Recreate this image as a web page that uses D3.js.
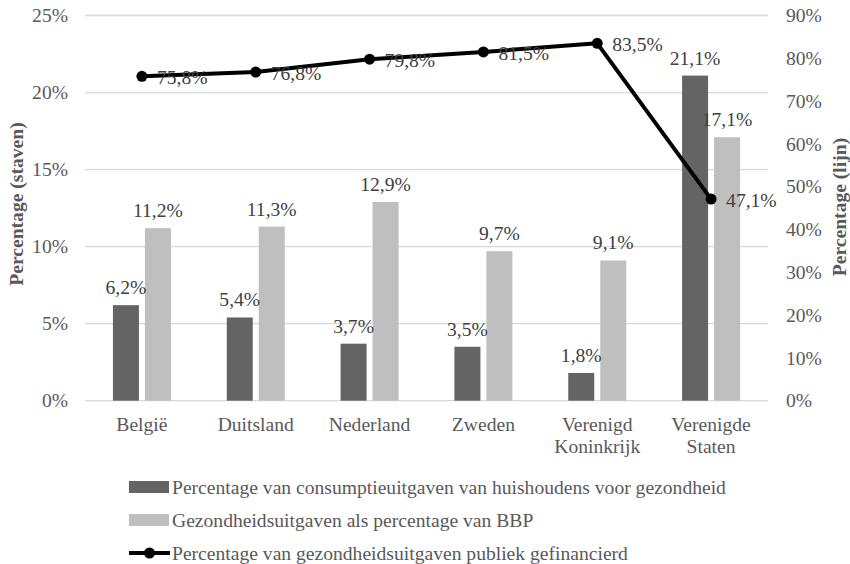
<!DOCTYPE html>
<html><head><meta charset="utf-8">
<script src="https://cdn.jsdelivr.net/npm/d3@7"></script>
<style>
html,body{margin:0;padding:0;background:#fff;}
svg text{font-family:"Liberation Serif","Times New Roman",Times,serif !important;}
</style></head>
<body><svg id="c" width="850" height="564"></svg>
<script>
const categories = ["België","Duitsland","Nederland","Zweden","Verenigd Koninkrijk","Verenigde Staten"];
const householdShare = [6.2,5.4,3.7,3.5,1.8,21.1];
const gdpShare = [11.2,11.3,12.9,9.7,9.1,17.1];
const publicShare = [75.8,76.8,79.8,81.5,83.5,47.1];
const leftTicks = [0,5,10,15,20,25];
const rightTicks = [0,10,20,30,40,50,60,70,80,90];
const seriesNames = [
  "Percentage van consumptieuitgaven van huishoudens voor gezondheid",
  "Gezondheidsuitgaven als percentage van BBP",
  "Percentage van gezondheidsuitgaven publiek gefinancierd"
];

const svg = d3.select("#c");
const plot = {l:85, r:768, t:15.5, b:400.7};
const fs = 19.6;
const axisCol = "#595959", labCol = "#404040", gridCol = "#d9d9d9";
const barCols = ["#646464","#bfbfbf"];
const fmt = v => d3.format(".1f")(v).replace(".", ",") + "%";

const x = d3.scaleBand().domain(categories).range([plot.l, plot.r]);
const xs = d3.scaleBand().domain([0,1]).range([-29,29]).paddingInner(0.1875);
const yL = d3.scaleLinear().domain([0,25]).range([plot.b, plot.t]);
const yR = d3.scaleLinear().domain([0,90]).range([plot.b, plot.t]);

svg.append("g").selectAll("line").data(leftTicks).join("line")
  .attr("x1", plot.l).attr("x2", plot.r)
  .attr("y1", d => yL(d)).attr("y2", d => yL(d))
  .attr("stroke", gridCol).attr("stroke-width", 1.3);

const gl = svg.append("g").attr("transform", `translate(${plot.l},0)`)
  .call(d3.axisLeft(yL).tickValues(leftTicks).tickSize(0).tickPadding(17).tickFormat(d => d + "%"));
gl.select(".domain").remove();
gl.selectAll("text").attr("font-size", fs).attr("fill", axisCol);

const gr = svg.append("g").attr("transform", `translate(${plot.r},0)`)
  .call(d3.axisRight(yR).tickValues(rightTicks).tickSize(0).tickPadding(18).tickFormat(d => d + "%"));
gr.select(".domain").remove();
gr.selectAll("text").attr("font-size", fs).attr("fill", axisCol);

const gx = svg.append("g");
categories.forEach(c => {
  const words = c.split(" ");
  const t = gx.append("text").attr("text-anchor", "middle")
    .attr("font-size", fs).attr("fill", axisCol)
    .attr("x", x(c) + x.bandwidth()/2).attr("y", 431);
  words.forEach((w, i) => t.append("tspan").attr("x", x(c) + x.bandwidth()/2).attr("dy", i ? 22 : 0).text(w));
});

const barData = categories.flatMap((c, i) => [
  {c, s:0, v:householdShare[i]},
  {c, s:1, v:gdpShare[i]}
]);
const bx = d => x(d.c) + x.bandwidth()/2 + xs(d.s);
svg.append("g").selectAll("rect").data(barData).join("rect")
  .attr("x", bx).attr("width", xs.bandwidth())
  .attr("y", d => yL(d.v)).attr("height", d => yL(0) - yL(d.v))
  .attr("fill", d => barCols[d.s]);
svg.append("g").selectAll("text").data(barData).join("text")
  .attr("x", d => bx(d) + xs.bandwidth()/2).attr("y", d => yL(d.v) - 11)
  .attr("text-anchor", "middle").attr("font-size", fs).attr("fill", labCol)
  .text(d => fmt(d.v));

const lineData = categories.map((c, i) => ({c, v: publicShare[i]}));
const cx = d => x(d.c) + x.bandwidth()/2;
svg.append("path").datum(lineData)
  .attr("d", d3.line().x(cx).y(d => yR(d.v)))
  .attr("fill", "none").attr("stroke", "#000").attr("stroke-width", 4).attr("stroke-linejoin", "round");
svg.append("g").selectAll("circle").data(lineData).join("circle")
  .attr("cx", cx).attr("cy", d => yR(d.v)).attr("r", 5.5).attr("fill", "#000");
svg.append("g").selectAll("text").data(lineData).join("text")
  .attr("x", d => cx(d) + 15).attr("y", d => yR(d.v) + 8)
  .attr("font-size", fs).attr("fill", labCol)
  .text(d => fmt(d.v));

svg.append("text").attr("transform", `translate(23,204) rotate(-90)`)
  .attr("text-anchor", "middle").attr("font-size", fs).attr("font-weight", "bold").attr("fill", axisCol)
  .text("Percentage (staven)");
svg.append("text").attr("transform", `translate(846,207) rotate(-90)`)
  .attr("text-anchor", "middle").attr("font-size", fs).attr("font-weight", "bold").attr("fill", axisCol)
  .text("Percentage (lijn)");

const lg = svg.append("g");
const rowY = [487, 520, 553];
seriesNames.forEach((n, i) => {
  const y = rowY[i];
  if (i < 2) {
    lg.append("rect").attr("x", 129).attr("y", y - 6).attr("width", 40).attr("height", 12).attr("fill", barCols[i]);
  } else {
    lg.append("line").attr("x1", 129).attr("x2", 170).attr("y1", y).attr("y2", y).attr("stroke", "#000").attr("stroke-width", 4);
    lg.append("circle").attr("cx", 149.5).attr("cy", y).attr("r", 5.5).attr("fill", "#000");
  }
  lg.append("text").attr("x", 172).attr("y", y + 6.5).attr("font-size", fs).attr("fill", axisCol).text(n);
});
</script></body></html>
